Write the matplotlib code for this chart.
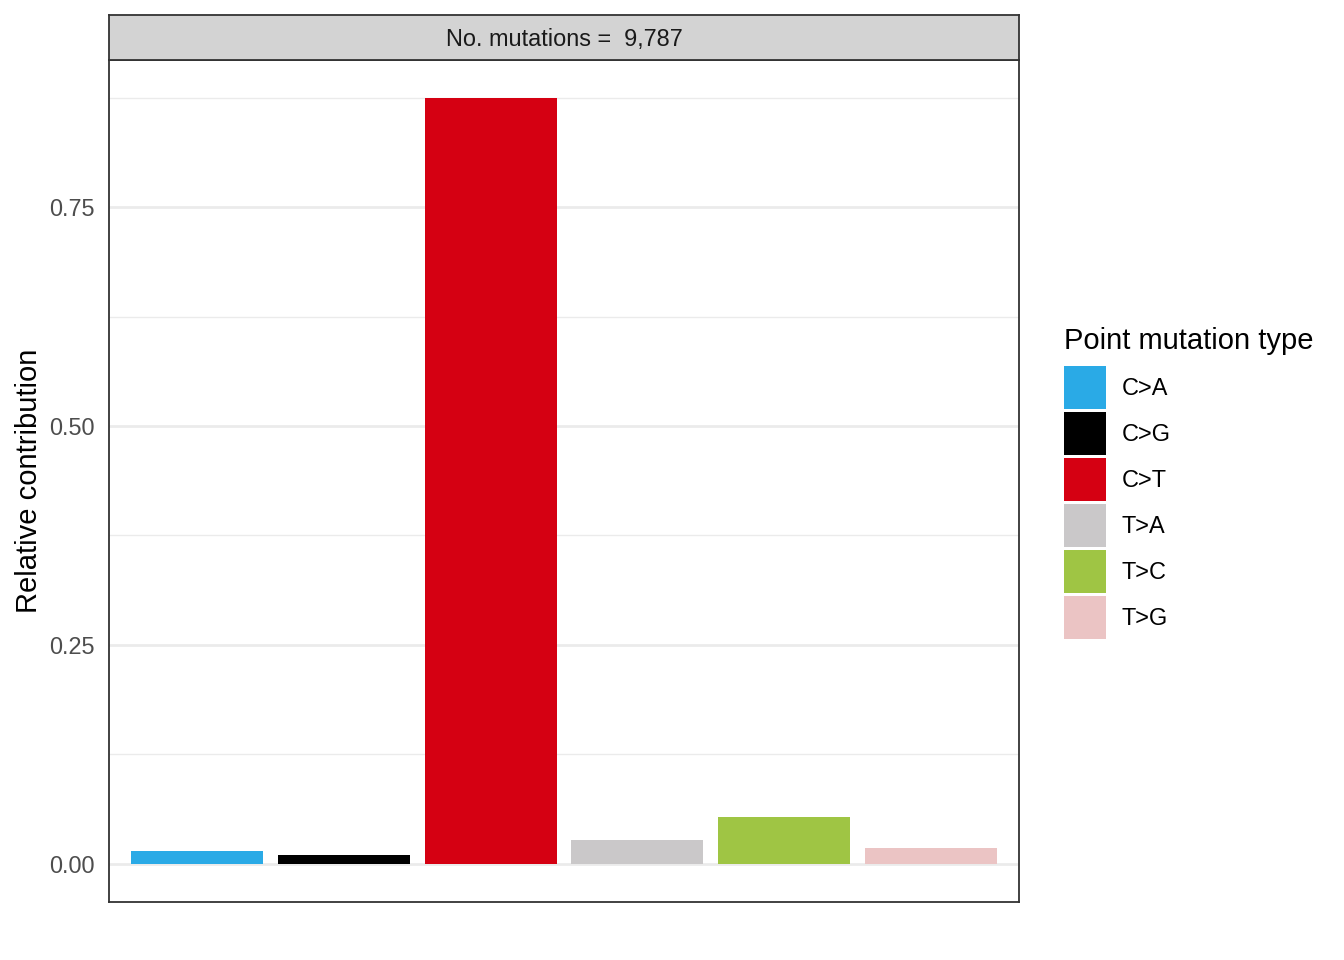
import matplotlib
matplotlib.use("Agg")
import matplotlib.pyplot as plt
from matplotlib.patches import Patch
from matplotlib.ticker import FixedLocator

plt.rcParams['font.family'] = ['Liberation Sans', 'DejaVu Sans']

# data
mut_types = ['C>A', 'C>G', 'C>T', 'T>A', 'T>C', 'T>G']
contribution = [0.0148, 0.0103, 0.8743, 0.0274, 0.0536, 0.0182]
colors = ['#2AAAE6', '#000000', '#D50012', '#CAC8C9', '#9FC544', '#EBC4C4']
n_mutations = 9787

W, H = 1344, 960
fig = plt.figure(figsize=(W / 100, H / 100), dpi=100)

# panel
left, right, top, bottom = 109, 1019, 60, 902
ax = fig.add_axes([left / W, 1 - bottom / H, (right - left) / W, (bottom - top) / H])
xpos = list(range(1, len(mut_types) + 1))
ax.bar(xpos, contribution, width=0.9, color=colors, zorder=3)

ymax = max(contribution)
ax.set_xlim(0.4, len(mut_types) + 0.6)
ax.set_ylim(-0.05 * ymax, 1.05 * ymax)
ax.set_xticks([])
ax.yaxis.set_major_locator(FixedLocator([0, 0.25, 0.5, 0.75]))
ax.yaxis.set_minor_locator(FixedLocator([0.125, 0.375, 0.625, 0.875]))
ax.set_yticklabels(['0.00', '0.25', '0.50', '0.75'])
ax.tick_params(axis='y', which='both', length=0, pad=10.5, labelsize=16.9, labelcolor='#4D4D4D')
ax.grid(axis='y', which='major', color='#EBEBEB', linewidth=2.0, zorder=0)
ax.grid(axis='y', which='minor', color='#EBEBEB', linewidth=1.0, zorder=0)
ax.set_ylabel('Relative contribution', fontsize=21, labelpad=4, color='black')
for s in ax.spines.values():
    s.set_color('#333333')
    s.set_linewidth(1.3)

# facet strip
strip_top = 15
sx = fig.add_axes([left / W, 1 - top / H, (right - left) / W, (top - strip_top) / H])
sx.set_facecolor('#D3D3D3')
sx.set_xticks([])
sx.set_yticks([])
for s in sx.spines.values():
    s.set_color('#333333')
    s.set_linewidth(1.3)
sx.text(0.5, 0.45, 'No. mutations =  {:,}'.format(n_mutations), ha='center', va='center',
        fontsize=16.9, color='#1A1A1A', transform=sx.transAxes)

# legend
handles = [Patch(facecolor=c, edgecolor='none') for c in colors]
fs = 16.9 * 100 / 72
key_h = (43 / fs - 0.245) / 0.65
leg = fig.legend(handles, mut_types, loc='upper left',
                 bbox_to_anchor=(1064 / W, 1 - 327 / H), frameon=False,
                 fontsize=16.9, title='Point mutation type', title_fontsize=21,
                 handlelength=42 / fs, handleheight=key_h, labelspacing=3 / fs,
                 handletextpad=16 / fs, borderpad=0, borderaxespad=0,
                 alignment='left')
leg._legend_box.sep = 8

fig.savefig('out.png', dpi=100, facecolor='white')
